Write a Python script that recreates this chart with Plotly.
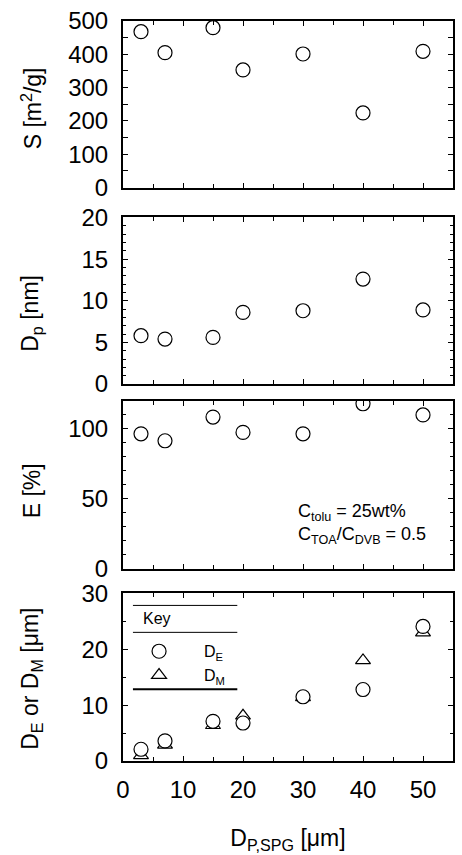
import plotly.graph_objects as go
from plotly.subplots import make_subplots

# ---- data ----
d_spg = [3, 7, 15, 20, 30, 40, 50]
surface_area = [468, 405, 480, 353, 401, 224, 409]
pore_diam = [5.8, 5.4, 5.6, 8.6, 8.8, 12.6, 8.9]
efficiency = [96.5, 91.5, 108.5, 97.5, 96.5, 118, 110]
d_e = [2.1, 3.6, 7.1, 6.8, 11.5, 12.8, 24.1]
d_m = [1.0, 2.9, 6.4, 8.1, 11.4, 18.0, 23.0]
y_titles = ["S [m<sup>2</sup>/g]", "D<sub>p</sub> [nm]", "E [%]", "D<sub>E</sub> or D<sub>M</sub> [μm]"]
x_title = "D<sub>P,SPG</sub> [μm]"

FONT = "Arial, Liberation Sans, sans-serif"

W, H = 462, 855
ML, MR, MT, MB = 123, 7, 19, 94
PH = H - MT - MB


def dom(top_px, bot_px):
    return [(H - MB - bot_px) / PH, (H - MB - top_px) / PH]


px = lambda x: (x - ML) / (W - ML - MR)
py = lambda y: (H - MB - y) / PH

fig = make_subplots(rows=4, cols=1, shared_xaxes=True, vertical_spacing=0.02)

circ = dict(symbol="circle", size=14, color="white", line=dict(color="black", width=1.2))
tri = dict(symbol="triangle-up", size=13, color="white", line=dict(color="black", width=1.2))

fig.add_trace(go.Scatter(x=d_spg, y=surface_area, mode="markers", marker=circ, showlegend=False), row=1, col=1)
fig.add_trace(go.Scatter(x=d_spg, y=pore_diam, mode="markers", marker=circ, showlegend=False), row=2, col=1)
fig.add_trace(go.Scatter(x=d_spg, y=efficiency, mode="markers", marker=circ, showlegend=False), row=3, col=1)
fig.add_trace(go.Scatter(x=d_spg, y=d_m, mode="markers", marker=tri, name="D<sub>M</sub>", legendrank=2), row=4, col=1)
fig.add_trace(go.Scatter(x=d_spg, y=d_e, mode="markers", marker=circ, name="D<sub>E</sub>", legendrank=1), row=4, col=1)

axcommon = dict(showline=True, linecolor="black", linewidth=2, mirror="ticks", ticks="inside",
                ticklen=5, tickcolor="black", tickwidth=1, showgrid=False, zeroline=False,
                tickfont=dict(family=FONT, size=24, color="black"))

panel_px = [(19, 186), (216, 383), (400, 568), (593, 761)]
title_centers_px = [107, 312, 490, 679]
domains = [dom(t, b) for t, b in panel_px]
yspecs = [
    dict(range=[0, 500], dtick=100, minor=dict(dtick=50, ticklen=5)),
    dict(range=[0, 20], dtick=5, minor=dict(dtick=1, ticklen=3)),
    dict(range=[0, 120], dtick=50, minor=dict(dtick=10, ticklen=3)),
    dict(range=[0, 30], dtick=10, minor=dict(dtick=5, ticklen=3)),
]

for i, (d, ys) in enumerate(zip(domains, yspecs), start=1):
    mn = dict(ticks="inside", ticklen=ys["minor"]["ticklen"], tickcolor="black", tickwidth=1,
              dtick=ys["minor"]["dtick"], showgrid=False)
    fig.update_yaxes(row=i, col=1, domain=d, range=ys["range"], dtick=ys["dtick"], tick0=0,
                     minor=mn, ticklabelstandoff=8, **axcommon)
    fig.update_xaxes(row=i, col=1, range=[0, 55], dtick=10, tick0=0,
                     minor=dict(ticks="inside", ticklen=4, tickcolor="black", dtick=5, showgrid=False),
                     showticklabels=(i == 4), ticklabelstandoff=6, **axcommon)
    # y-axis title placed as rotated text left of the tick labels
    fig.add_annotation(xref="paper", yref="paper", x=px(31), y=py(title_centers_px[i - 1]),
                       xanchor="center", yanchor="middle", textangle=-90, showarrow=False,
                       text=y_titles[i - 1], font=dict(family=FONT, size=23, color="black"))

fig.update_xaxes(row=4, col=1,
                 title=dict(text=x_title, font=dict(family=FONT, size=23, color="black"), standoff=28))

# condition text
fig.add_annotation(xref="paper", yref="paper", x=px(297), y=py(523),
                   xanchor="left", yanchor="middle", align="left", showarrow=False,
                   text="C<sub>tolu</sub> = 25wt%<br>C<sub>TOA</sub>/C<sub>DVB</sub> = 0.5",
                   font=dict(family=FONT, size=18, color="black"))

# key box: title and rules
fig.add_annotation(xref="paper", yref="paper", x=px(141), y=py(618), xanchor="left", yanchor="middle",
                   showarrow=False, text="Key", font=dict(family=FONT, size=16, color="black"))
for yy, lw in [(605, 1), (632, 1), (689, 2)]:
    fig.add_shape(type="line", xref="paper", yref="paper", x0=px(133), x1=px(238), y0=py(yy), y1=py(yy),
                  line=dict(color="black", width=lw))

fig.update_layout(
    width=W, height=H, margin=dict(l=ML, r=MR, t=MT, b=MB),
    paper_bgcolor="white", plot_bgcolor="white",
    font=dict(family=FONT, color="black"),
    showlegend=True,
    legend=dict(x=px(114), y=py(634), xanchor="left", yanchor="top", bgcolor="rgba(0,0,0,0)",
                font=dict(family=FONT, size=16, color="black"), itemwidth=80, tracegroupgap=0),
)

fig.write_html("out.html")
